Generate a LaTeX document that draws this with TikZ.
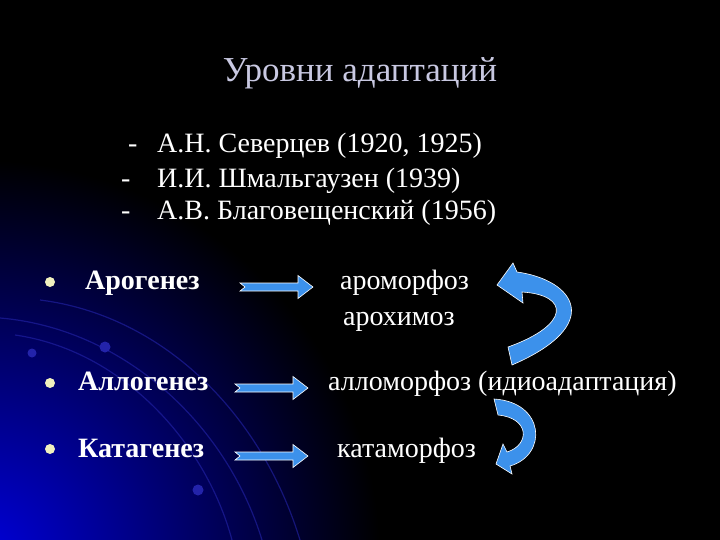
\documentclass[tikz,border=0pt]{standalone}
\usepackage{fontspec}
\setmainfont{Liberation Serif}
\usetikzlibrary{positioning}
\definecolor{glowblue}{RGB}{0,0,220}
\definecolor{arrowblue}{RGB}{60,145,235}
\definecolor{titlegrey}{RGB}{200,200,225}
\definecolor{bulletyellow}{RGB}{240,240,190}
\definecolor{arcblue}{RGB}{35,35,170}

\tikzset{
  txt/.style={anchor=base west, text=white, inner sep=0pt, font=\fontsize{28}{32}\selectfont},
  term/.style={txt, font=\fontsize{28}{32}\selectfont\bfseries},
  bullet/.style={circle, fill=bulletyellow, minimum size=10pt, inner sep=0pt},
  blockarrow/.style={fill=arrowblue, draw=white, line width=0.6pt, line join=miter},
  bgarc/.style={draw=arcblue, line width=1.2pt, opacity=0.6},
}

\begin{document}
\begin{tikzpicture}[x=1pt, y=-1pt]
  % Background
  \fill[black] (0,0) rectangle (720,540);
  \begin{scope}
    \clip (0,0) rectangle (720,540);
    \shade[inner color=glowblue, outer color=black] (-20,560) circle (400);
    \draw[bgarc] (0,318) .. controls (120,328) and (225,420) .. (262,540);
    \draw[bgarc] (15,335) .. controls (120,350) and (205,440) .. (232,540);
    \draw[bgarc] (40,300) .. controls (160,315) and (260,410) .. (300,540);
    \fill[arcblue] (32,353) circle (4.5);
    \fill[arcblue] (105,347) circle (5.5);
    \fill[arcblue] (198,490) circle (5.5);
  \end{scope}
  \useasboundingbox (0,0) rectangle (720,540);

  % Title
  \node[anchor=base, text=titlegrey, inner sep=0pt, font=\fontsize{35}{40}\selectfont] (title) at (360,82) {Уровни адаптаций};

  % Authors
  \node[txt] (dash1) at (128,153) {-};
  \node[txt] (dash2) at (121,188) {-};
  \node[txt] (dash3) at (121,220) {-};
  \node[txt] (sev) at (157,153) {А.Н. Северцев (1920, 1925)};
  \node[txt] (shm) at (157,188) {И.И. Шмальгаузен (1939)};
  \node[txt] (blg) at (157,220) {А.В. Благовещенский (1956)};

  % Levels
  \node[bullet] (b1) at (50,282) {};
  \node[bullet] (b2) at (50,383) {};
  \node[bullet] (b3) at (50,449) {};
  \node[term] (aro) at (85,289) {Арогенез};
  \node[term] (allo) at (78,390) {Аллогенез};
  \node[term] (kata) at (78,457) {Катагенез};

  % Results
  \node[txt] (aromorf) at (340,289) {ароморфоз};
  \node[txt] (arohim) at (343,325) {арохимоз};
  \node[txt] (allomorf) at (328,390) {алломорфоз (идиоадаптация)};
  \node[txt] (katamorf) at (337,457) {катаморфоз};

  % Straight arrows
  \foreach \xa/\ya in {240/287, 235/388, 235/456} {
    \draw[blockarrow, shift={(\xa,\ya)}] (0,-4) -- (58,-4) -- (58,-11.5) -- (73,0)
      -- (58,11.5) -- (58,4) -- (0,4) -- (5,0) -- cycle;
  }

  % Curved arrows
  \draw[blockarrow] (517,272) .. controls (575,280) and (605,325) .. (512,365)
    -- (508,347) .. controls (570,325) and (570,295) .. (522,292)
    -- (523,303) -- (497,285) -- (513,263) -- cycle;
  \draw[blockarrow] (494,399) .. controls (545,402) and (548,455) .. (510,466)
    -- (512,474) -- (496,464) -- (503,444) -- (507,452)
    .. controls (530,445) and (530,418) .. (498,415) -- cycle;
\end{tikzpicture}
\end{document}
